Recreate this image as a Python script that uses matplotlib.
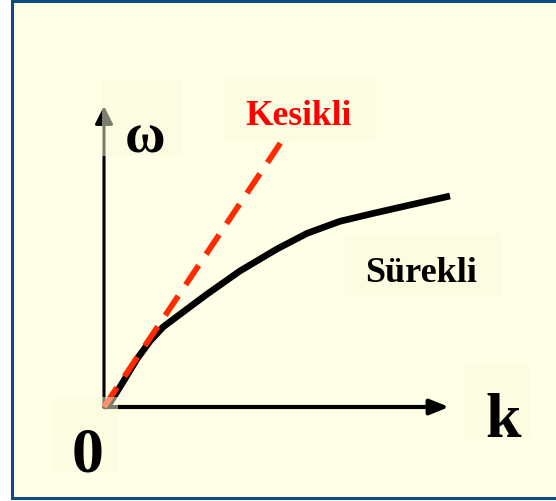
import matplotlib
matplotlib.use("Agg")
import matplotlib.pyplot as plt
from matplotlib.patches import Rectangle

W, H = 556, 502

# continuous branch (Sürekli), k and omega normalised to the axis arrows
k_cont = [0.0, 0.017, 0.055, 0.095, 0.133, 0.171, 0.229, 0.298, 0.393,
          0.500, 0.587, 0.682, 0.777, 0.876, 1.0]
w_cont = [0.0, 0.013, 0.083, 0.159, 0.219, 0.266, 0.316, 0.375, 0.452,
          0.525, 0.577, 0.617, 0.643, 0.669, 0.701]

# discrete branch (Kesikli), straight dashed line
k_disc = [0.0, 0.51]
w_disc = [0.0, 0.877]

labels = ["ω", "Kesikli", "Sürekli", "k", "0"]

serif = ["Liberation Serif", "DejaVu Serif"]
bg = "#FFFFE8"
boxc = "#FAFADC"
navy = "#0F4C81"


def fig_xy(x, y):
    return x / W, 1 - y / H


fig = plt.figure(figsize=(W / 100, H / 100), dpi=100)
fig.patch.set_facecolor("white")

# frame
frame = Rectangle(fig_xy(11.5, 498.5), (W + 10 - 11.5) / W, 497 / H,
                  transform=fig.transFigure, facecolor=bg, edgecolor=navy,
                  linewidth=2.2, zorder=-5)
fig.patches.append(frame)

# plotting axes: origin at (104,408) px, arrow tips at k=1 / omega=1
x0, y0 = 104, 408
sx, sy = 346, 301
ax = fig.add_axes([0, 0, 1, 1])
ax.set_xlim(-x0 / sx, (W - x0) / sx)
ax.set_ylim(-(H - y0) / sy, y0 / sy)
ax.axis("off")
ax.patch.set_alpha(0)

ax.annotate("", xy=(0, 1.0), xytext=(0, 0),
            arrowprops=dict(arrowstyle="-|>,head_length=0.4,head_width=0.2",
                            lw=2.2, color="black", mutation_scale=27,
                            shrinkA=0, shrinkB=0), zorder=2)
ax.annotate("", xy=(0.997, 0), xytext=(0, 0),
            arrowprops=dict(arrowstyle="-|>,head_length=0.42,head_width=0.17",
                            lw=3, color="black", mutation_scale=27,
                            shrinkA=0, shrinkB=0), zorder=2)

ax.plot(k_cont, w_cont, color="black", lw=4.8, solid_capstyle="butt",
        solid_joinstyle="round", zorder=3)
ax.plot(k_disc, w_disc, color="#FF2A00", lw=4.2, linestyle=(0, (4, 2.3)),
        dash_capstyle="butt", zorder=4)

# semi transparent label boxes
boxes = [(102, 81, 182, 157), (223, 79, 377, 143), (345, 235, 502, 298),
         (465, 365, 530, 440), (53, 398, 118, 473)]
for (l, t, r, b) in boxes:
    fig.patches.append(Rectangle(fig_xy(l, b), (r - l) / W, (b - t) / H,
                                 transform=fig.transFigure, facecolor=boxc,
                                 edgecolor="none", alpha=0.5, zorder=5))

texts = [(145, 153, 40, "black"), (299, 125, 25.5, "#FF0000"),
         (421.5, 282, 26, "black"), (503.5, 437, 46, "black"),
         (87.5, 472, 46, "black")]
for lab, (x, y, fs, c) in zip(labels, texts):
    fig.text(*fig_xy(x, y), lab, ha="center", va="baseline", fontsize=fs,
             color=c, family=serif, weight="bold", zorder=6)

fig.savefig("out.png", dpi=100, facecolor=fig.get_facecolor())
